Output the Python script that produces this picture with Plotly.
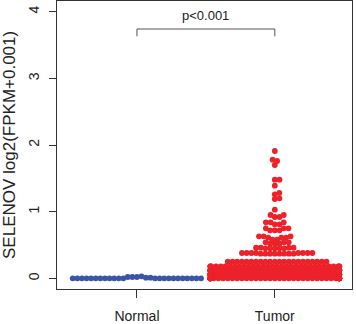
import numpy as np
import plotly.graph_objects as go

# ---------------- data ----------------
categories = ["Normal", "Tumor"]
y_ticks = [0, 1, 2, 3, 4]
y_title = "SELENOV log2(FPKM+0.001)"
p_label = "p<0.001"

normal_values = [0.02, 0.03, 0.02, 0.01, 0.02, 0.01,
                 0.0, 0.0, 0.0, 0.0, 0.0, 0.0, 0.0, 0.0, 0.0, 0.0, 0.0, 0.0,
                 0.0, 0.0, 0.0, 0.0, 0.0, 0.0, 0.0, 0.0, 0.0, 0.0, 0.0]

# Tumor group: value levels (expression is quantised) and how many samples sit there
tumor_levels = [0.00, 0.06, 0.12, 0.18, 0.25,
                0.37, 0.38, 0.45, 0.46, 0.52, 0.54, 0.58, 0.61, 0.63,
                0.72, 0.75, 0.81, 0.84, 0.92, 0.95,
                1.03, 1.19, 1.20, 1.26, 1.28, 1.39, 1.48, 1.70, 1.76, 1.78, 1.91]
tumor_counts = [50, 40, 36, 32, 22,
                8, 8, 5, 4, 3, 3, 2, 3, 3,
                3, 3, 2, 3, 2, 2,
                1, 1, 1, 1, 1, 1, 2, 1, 1, 1, 1]

bracket_top = 3.74
bracket_leg = 3.63
p_label_y = 3.95

x_range = [0.42, 2.56]
y_range = [-0.16, 4.16]

# ---------------- layout constants ----------------
W, H = 356, 324
ML, MR, MT, MB = 57, 4, 0, 30
plot_w = W - ML - MR
plot_h = H - MT - MB
px_per_x = plot_w / (x_range[1] - x_range[0])
px_per_y = plot_h / (y_range[1] - y_range[0])

tumor_values = []
for lv, c in zip(tumor_levels, tumor_counts):
    tumor_values += [lv] * c


def swarm(vals, d, limit, ascending=True):
    """beeswarm 'swarm' layout in pixel space, gutter corral; returns x offsets in px"""
    ys = np.asarray(vals, float) * px_per_y
    n = len(ys)
    order = np.argsort(ys, kind="stable") if ascending else np.arange(n)
    xs = np.zeros(n)
    px, py = [], []
    for i in order:
        y = ys[i]
        x = 0.0
        if px:
            ax = np.array(px)
            ay = np.array(py)
            dy = ay - y
            m = np.abs(dy) < d
            if m.any():
                nx = ax[m]
                ndy = dy[m]
                off = np.sqrt(d * d - ndy * ndy)
                cands = np.concatenate([[0.0], nx + off, nx - off])
                cands = cands[np.argsort(np.abs(cands), kind="stable")]
                dist2 = (cands[:, None] - nx[None, :]) ** 2 + ndy[None, :] ** 2
                ok = np.all(dist2 >= d * d - 1e-6, axis=1)
                x = cands[np.argmax(ok)]
        xs[i] = x
        px.append(x)
        py.append(y)
    return np.clip(xs, -limit, limit)


sw_d = 4.7
gutter = 64.5
normal_dx = swarm(normal_values, 4.6, gutter, ascending=False)
tumor_dx = swarm(tumor_values, sw_d, gutter, ascending=True)

normal_x = 1 + normal_dx / px_per_x
tumor_x = 2 + tumor_dx / px_per_x

font_family = "Liberation Sans, Arial, Helvetica, sans-serif"
frame_col = "#333333"

fig = go.Figure()
fig.add_trace(go.Scatter(x=normal_x, y=normal_values, mode="markers",
                         marker=dict(size=5.8, color="#3A55A6", line=dict(width=0)),
                         showlegend=False, hoverinfo="y"))
fig.add_trace(go.Scatter(x=tumor_x, y=tumor_values, mode="markers",
                         marker=dict(size=5.8, color="#EC2129", line=dict(width=0)),
                         showlegend=False, hoverinfo="y"))

fig.add_shape(type="path",
              path=f"M 1 {bracket_leg} L 1 {bracket_top} L 2 {bracket_top} L 2 {bracket_leg}",
              xref="x", yref="y", line=dict(color="#555555", width=1))
fig.add_annotation(x=1.5, y=p_label_y, xref="x", yref="y", text=p_label,
                   showarrow=False, font=dict(size=13, color="#222222", family=font_family),
                   xanchor="center", yanchor="middle")
fig.add_annotation(x=0, y=0.5, xref="paper", yref="paper", text=y_title,
                   textangle=-90, showarrow=False, xshift=-48,
                   font=dict(size=17, color="#222222", family=font_family),
                   xanchor="center", yanchor="middle")

fig.update_layout(
    width=W, height=H,
    margin=dict(l=ML, r=MR, t=MT, b=MB),
    paper_bgcolor="white", plot_bgcolor="white",
    font=dict(family=font_family, size=14, color="#222222"),
    xaxis=dict(range=x_range, tickvals=[1, 2], ticktext=categories,
               ticks="outside", ticklen=8, tickcolor=frame_col, tickwidth=1,
               showline=True, linecolor=frame_col, linewidth=1, mirror=True,
               showgrid=False, zeroline=False, ticklabelstandoff=6,
               tickfont=dict(size=14)),
    yaxis=dict(range=y_range, tickvals=y_ticks, ticktext=[str(t) for t in y_ticks],
               tickangle=-90, ticks="outside", ticklen=7, tickcolor=frame_col, tickwidth=1,
               showline=True, linecolor=frame_col, linewidth=1, mirror=True,
               showgrid=False, zeroline=False, ticklabelstandoff=4,
               tickfont=dict(size=14)),
)

fig.write_html("out.html")
